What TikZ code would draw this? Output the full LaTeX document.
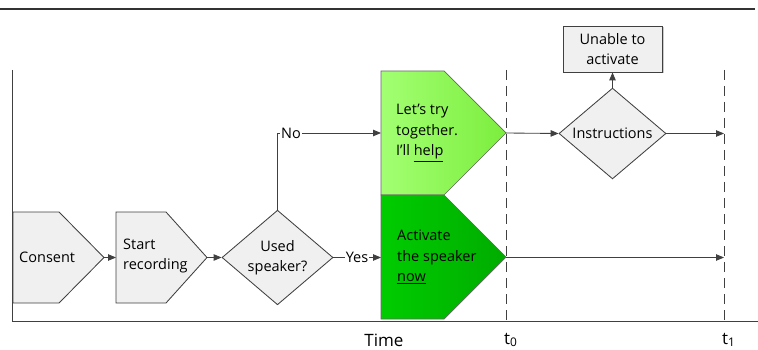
\documentclass[tikz,border=0pt]{standalone}
\usepackage{fontspec}
\setmainfont{Open Sans}
\usetikzlibrary{shapes.geometric,arrows.meta,shadows}
\definecolor{linec}{HTML}{404040}
\definecolor{grayfill}{HTML}{F0F0F0}
\definecolor{lgA}{HTML}{A2FF72}
\definecolor{lgB}{HTML}{7CEE3E}
\definecolor{dgA}{HTML}{00CC00}
\definecolor{dgB}{HTML}{00AC00}
\begin{document}
\begin{tikzpicture}[x=1pt,y=-1pt,
  font=\fontsize{14.5}{20.5}\selectfont,
  axis/.style={draw=linec, line width=1pt},
  pent/.style={draw=linec, line width=0.85pt, fill=grayfill, line join=miter},
  gpent/.style={draw=linec!80, line width=0.7pt},
  dec/.style={shape=diamond, draw=linec, line width=0.85pt, fill=grayfill, inner sep=0pt, align=center},
  txt/.style={inner sep=0pt, align=left},
  lbl/.style={inner sep=1pt, fill=white},
  conn/.style={draw=linec, line width=0.85pt},
  arr/.style={conn, -{Triangle[length=8pt,width=6.5pt]}},
  dashline/.style={draw=linec, line width=1pt, dash pattern=on 10pt off 6pt},
  boxst/.style={draw=linec, line width=0.85pt, fill=grayfill, align=center, inner sep=0pt,
    drop shadow={shadow xshift=1.5pt, shadow yshift=-1.5pt, fill=black!35, opacity=0.6}}
]
\useasboundingbox (0,0) rectangle (758,350);
% frame
\coordinate (topL) at (0,9);
\coordinate (topR) at (755,9);
\draw[draw=black!80, line width=1.6pt] (topL) -- (topR);
\coordinate (axTop) at (12,70);
\coordinate (axO) at (12,321);
\coordinate (axR) at (758,321);
\draw[axis] (axTop) -- (axO) -- (axR);
% time markers
\coordinate (t0top) at (506,70);
\coordinate (t0bot) at (506,321);
\coordinate (t1top) at (724,70);
\coordinate (t1bot) at (724,321);
\draw[dashline] (t0top) -- (t0bot);
\draw[dashline] (t1top) -- (t1bot);
\node[inner sep=0pt, font=\fontsize{17}{20}\selectfont] (timelbl) at (384,340) {Time};
\node[inner sep=0pt, anchor=west, font=\fontsize{17}{20}\selectfont] (t0lbl) at (504,340) {t\textsubscript{0}};
\node[inner sep=0pt, anchor=west, font=\fontsize{17}{20}\selectfont] (t1lbl) at (722,340) {t\textsubscript{1}};
% consent
\draw[pent] (13,212) -- (59,212) -- (104,257.5) coordinate (consentTip) -- (59,303) -- (13,303) -- cycle;
\node[txt, anchor=west] (consent) at (19,257.5) {Consent};
% start recording
\draw[pent] (116,212) coordinate (startIn) -- (166,212) -- (207,257.5) coordinate (startTip) -- (166,303) -- (116,303) -- cycle;
\coordinate (startL) at (116,257.5);
\node[txt, anchor=west] (start) at (123,256) {Start\\recording};
% decision
\node[dec, minimum width=111pt, minimum height=90pt] (used) at (277.5,257.5) {Used\\speaker?};
% light green
\shade[gpent, left color=lgA, right color=lgB] (381,71) -- (444,71) -- (506,133) -- (444,195) -- (381,195) -- cycle;
\coordinate (lgL) at (381,133);
\coordinate (lgTip) at (506,133);
\node[txt, anchor=west] (help) at (396,133) {Let’s try\\together.\\I’ll \underline{help}};
% dark green
\shade[gpent, left color=dgA, right color=dgB] (381,195) -- (444,195) -- (506,257) -- (444,319) -- (381,319) -- cycle;
\coordinate (dgL) at (381,257.5);
\coordinate (dgTip) at (506,257.5);
\node[txt, anchor=west] (now) at (397,257) {Activate\\the speaker\\\underline{now}};
% instructions
\node[dec, minimum width=107pt, minimum height=75pt] (instr) at (612.5,133.5) {Instructions};
\node[boxst, minimum width=99pt, minimum height=46pt] (unable) at (612.5,49) {Unable to\\activate};
\coordinate (t1a) at (724,133.5);
\coordinate (t1b) at (724,257.5);
% connectors
\draw[arr] (consentTip) -- (startL);
\draw[arr] (startTip) -- (used.west);
\node[lbl] (no) at (291,133) {No};
\draw[conn] (used.north) |- (no.west);
\draw[arr] (no.east) -- (lgL);
\node[lbl] (yes) at (357,257.5) {Yes};
\draw[conn] (used.east) -- (yes.west);
\draw[arr] (yes.east) -- (dgL);
\draw[arr] (lgTip) -- (instr.west);
\draw[arr] (instr.east) -- (t1a);
\draw[arr] (instr.north) -- (unable.south);
\draw[arr] (dgTip) -- (t1b);
\end{tikzpicture}
\end{document}
